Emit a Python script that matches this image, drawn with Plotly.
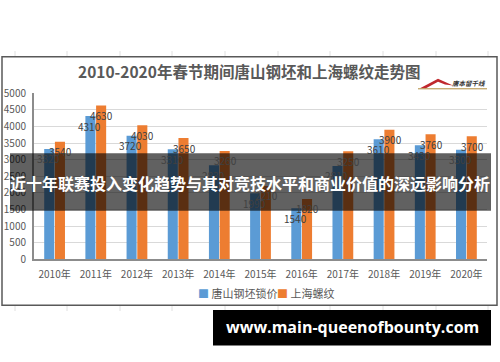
import plotly.graph_objects as go

years = ["2010年", "2011年", "2012年", "2013年", "2014年", "2015年", "2016年", "2017年", "2018年", "2019年", "2020年"]
tangshan = [3320, 4310, 3720, 3310, 2830, 1990, 1540, 2810, 3610, 3430, 3300]
shanghai = [3540, 4630, 4030, 3650, 3260, 2210, 1820, 3250, 3900, 3760, 3700]
series_names = ["唐山钢坯锁价", "上海螺纹"]
title_text = "2010-2020年春节期间唐山钢坯和上海螺纹走势图"
banner_text = "近十年联赛投入变化趋势与其对竞技水平和商业价值的深远影响分析"
watermark_text = "www.main-queenofbounty.com"

W, H = 500, 362
FONT = "Noto Sans CJK SC, Noto Sans, sans-serif"
BLUE = "#5B9BD5"
ORANGE = "#ED7D31"


def px(x):
    return x / W


def py(y):
    return 1 - y / H


fig = go.Figure()
fig.add_trace(go.Bar(x=years, y=tangshan, name=series_names[0], marker_color=BLUE,
                     marker_line_width=0, hoverinfo="skip", showlegend=False))
fig.add_trace(go.Bar(x=years, y=shanghai, name=series_names[1], marker_color=ORANGE,
                     marker_line_width=0, hoverinfo="skip", showlegend=False))

annotations = []
for yr, v in zip(years, tangshan):
    annotations.append(dict(x=yr, y=v, xref="x", yref="y", text=str(v), showarrow=False,
                            xanchor="center", yanchor="middle",
                            xshift=-6, yshift=-10, font=dict(family=FONT, size=10, color="#404040")))
for yr, v in zip(years, shanghai):
    annotations.append(dict(x=yr, y=v, xref="x", yref="y", text=str(v), showarrow=False,
                            xanchor="center", yanchor="middle",
                            xshift=6, yshift=-10, font=dict(family=FONT, size=10, color="#404040")))


def label(x, y, text, size, color, family=FONT, xanchor="center"):
    return dict(x=px(x), y=py(y), xref="paper", yref="paper", text=text, showarrow=False,
                xanchor=xanchor, yanchor="middle", font=dict(family=family, size=size, color=color))


# title
annotations.append(label(249, 65, "<b>" + title_text + "</b>", 15.5, "#595959"))
# logo text
annotations.append(label(469, 77, "<b><i>唐本留千线</i></b>", 6.5, "#333333"))
# legend (custom)
annotations.append(label(196, 297, f"<span style='color:{BLUE}'>■</span> " + series_names[0], 11, "#595959",
                         xanchor="left"))
annotations.append(label(275, 297, f"<span style='color:{ORANGE}'>■</span> " + series_names[1], 11, "#595959",
                         xanchor="left"))
# banner text
annotations.append(label(250, 182, "<b>" + banner_text + "</b>", 16, "#ffffff"))
# watermark text
annotations.append(label(352, 333, "<b>" + watermark_text + "</b>", 16, "#ffffff", family="Open Sans, sans-serif"))

shapes = []
# faint sheet grid ticks
for gx in [15, 67, 120, 172, 225, 278, 330, 383, 436, 488]:
    shapes.append(dict(type="line", xref="paper", yref="paper", x0=px(gx), x1=px(gx), y0=py(44), y1=py(50),
                       line=dict(color="#e0e0e0", width=1), layer="below"))
    shapes.append(dict(type="line", xref="paper", yref="paper", x0=px(gx), x1=px(gx), y0=py(310), y1=py(316),
                       line=dict(color="#e0e0e0", width=1), layer="below"))
# chart box
shapes.append(dict(type="rect", xref="paper", yref="paper", x0=px(2), x1=px(497), y0=py(310), y1=py(50),
                   line=dict(color="#595959", width=1.5), fillcolor="rgba(0,0,0,0)", layer="below"))
# logo roof
shapes.append(dict(type="path", xref="paper", yref="paper",
                   path=f"M {px(420)} {py(83)} L {px(438)} {py(73)} L {px(453)} {py(80)} L {px(445)} {py(79)} L {px(438)} {py(76)} L {px(426)} {py(83)} Z",
                   fillcolor="#c0282d", line=dict(width=0), layer="above"))
shapes.append(dict(type="line", xref="paper", yref="paper", x0=px(418), x1=px(487), y0=py(83.5), y1=py(83.5),
                   line=dict(color="#b08a3c", width=1), layer="above"))
# banner
shapes.append(dict(type="rect", xref="paper", yref="paper", x0=px(10), x1=px(491), y0=py(211), y1=py(151),
                   fillcolor="rgba(0,0,0,0.62)", line=dict(width=0), layer="above"))
# watermark box
shapes.append(dict(type="rect", xref="paper", yref="paper", x0=px(213), x1=px(491), y0=py(352), y1=py(315),
                   fillcolor="#000000", line=dict(width=0), layer="above"))

fig.update_layout(
    width=W, height=H,
    margin=dict(l=0, r=0, t=0, b=0),
    paper_bgcolor="white", plot_bgcolor="white",
    barmode="group", bargap=0.48, bargroupgap=0.06,
    showlegend=False,
    xaxis=dict(domain=[px(34), px(487)], showgrid=False, showline=True, linecolor="#8c8c8c", linewidth=1.5,
               ticks="", ticklabelstandoff=5, tickfont=dict(family=FONT, size=10, color="#595959")),
    yaxis=dict(domain=[py(262), py(88)], range=[0, 5000], dtick=500, showgrid=True, gridcolor="#d9d9d9",
               gridwidth=1, showline=True, linecolor="#8c8c8c", linewidth=2, ticks="", ticklabelstandoff=4,
               zeroline=False, tickfont=dict(family=FONT, size=10, color="#595959")),
    annotations=annotations,
    shapes=shapes,
)

fig.write_html("out.html")
